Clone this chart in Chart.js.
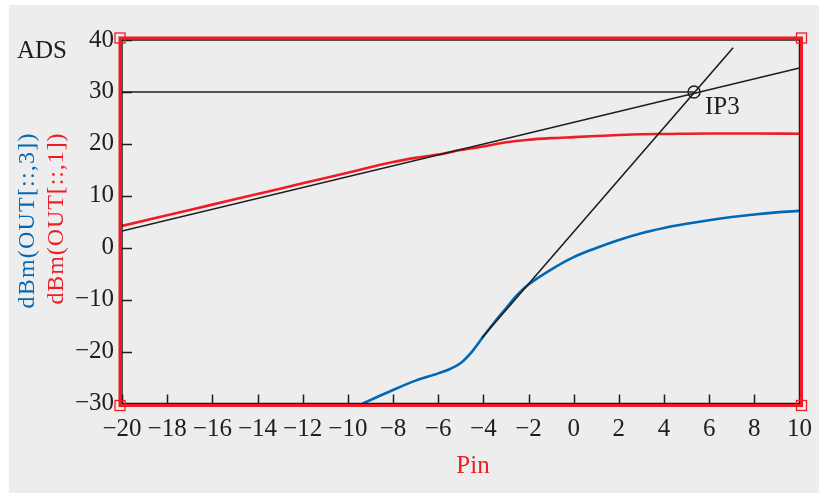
<!DOCTYPE html>
<html><head><meta charset="utf-8">
<script src="https://cdn.jsdelivr.net/npm/chart.js@4"></script>
<style>html,body{margin:0;padding:0;background:#fff;}#wrap{width:827px;height:493px;}</style>
</head><body><div id="wrap"><canvas id="c" width="827" height="493"></canvas></div>
<script>
// ---- data ----
const xTicks = [-20,-18,-16,-14,-12,-10,-8,-6,-4,-2,0,2,4,6,8,10];
const yTicks = [-30,-20,-10,0,10,20,30,40];

// dBm(OUT[::,1]) - fundamental (red)
const out1X = [-20,-18,-16,-14,-12,-10,-8,-7,-6,-5,-4,-3,-2,-1,0,1,2,3,4,6,8,10];
const out1Y = [4.2,6.25,8.3,10.35,12.4,14.45,16.5,17.3,17.95,18.8,19.5,20.3,20.8,21.1,21.3,21.5,21.7,21.85,21.9,22.0,22.0,21.95];

// dBm(OUT[::,3]) - third order (blue)
const out3X = [-9.35,-8,-7,-6,-5.5,-5,-4.5,-4,-3.5,-3,-2.5,-2,-1,0,1,2,3,4,5,6,7,8,9,10];
const out3Y = [-30,-27.4,-25.6,-24.2,-23.4,-22.2,-20.0,-17.1,-14.3,-11.7,-9.1,-7.1,-4.2,-1.8,-0.05,1.5,2.8,3.8,4.6,5.3,5.9,6.4,6.8,7.1];

// extrapolation lines
const fundLineX = [-20, 10];
const fundLineY = [3.2, 34.6];
const im3LineX = [-4.07, 7.06];
const im3LineY = [-17.4, 38.5];
const ip3X = 5.33;
const ip3Y = 30;
const ip3HLineX = [-20, ip3X];
const ip3HLineY = [ip3Y, ip3Y];

const RED = '#ee1c25';
const BLUE = '#0068b5';
const INK = '#1e1e1e';
const SERIF = '"Liberation Serif", "Times New Roman", serif';

const pts = (xs, ys) => xs.map((x, i) => ({x, y: ys[i]}));
const fmt = v => (v < 0 ? '\u2212' + Math.abs(v) : String(v));

const bgPlugin = {
  id: 'bg',
  beforeDraw(chart) {
    const ctx = chart.ctx;
    ctx.save();
    ctx.fillStyle = '#ffffff';
    ctx.fillRect(0, 0, chart.width, chart.height);
    ctx.fillStyle = '#ededed';
    ctx.fillRect(9, 5, 810, 488);
    ctx.restore();
  }
};

const framePlugin = {
  id: 'frame',
  afterDatasetsDraw(chart) {
    const ctx = chart.ctx;
    const a = chart.chartArea;
    const xs = chart.scales.x, ys = chart.scales.y;
    ctx.save();
    // inward tick marks
    ctx.strokeStyle = INK;
    ctx.lineWidth = 1.5;
    ctx.beginPath();
    xs.ticks.forEach(t => {
      const px = Math.round(xs.getPixelForValue(t.value)) + 0.5;
      ctx.moveTo(px, a.bottom);
      ctx.lineTo(px, a.bottom - 9);
    });
    ys.ticks.forEach(t => {
      const py = Math.round(ys.getPixelForValue(t.value)) + 0.5;
      ctx.moveTo(a.left, py);
      ctx.lineTo(a.left + 10, py);
    });
    ctx.stroke();
    // inner black frame
    ctx.lineWidth = 1.5;
    ctx.strokeRect(a.left, a.top, a.right - a.left, a.bottom - a.top);
    // outer red frame
    ctx.strokeStyle = RED;
    ctx.lineWidth = 3;
    const o = 2;
    ctx.strokeRect(a.left - o, a.top - o, a.right - a.left + 2 * o, a.bottom - a.top + 2 * o);
    // corner squares
    ctx.lineWidth = 1.3;
    [[a.left - o, a.top - o], [a.right + o, a.top - o], [a.left - o, a.bottom + o], [a.right + o, a.bottom + o]].forEach(([cx, cy]) => {
      ctx.strokeRect(cx - 5, cy - 5, 10, 10);
    });
    ctx.restore();
  },
  afterDraw(chart) {
    const ctx = chart.ctx;
    ctx.save();
    ctx.fillStyle = INK;
    ctx.font = '25px ' + SERIF;
    ctx.textBaseline = 'alphabetic';
    ctx.textAlign = 'left';
    ctx.fillText('ADS', 17, 58);
    ctx.fillText('IP3', 705, 114);
    ctx.fillStyle = RED;
    ctx.textAlign = 'center';
    ctx.fillText('Pin', 473, 473);
    // rotated y titles
    const drawRot = (txt, color, cx, cy, target) => {
      ctx.save();
      ctx.translate(cx, cy);
      ctx.rotate(-Math.PI / 2);
      ctx.font = '24px ' + SERIF;
      ctx.fillStyle = color;
      ctx.textAlign = 'center';
      ctx.textBaseline = 'middle';
      const w = ctx.measureText(txt).width;
      const n = txt.length;
      const ls = Math.max(0, (target - w) / n);
      ctx.letterSpacing = ls + 'px';
      ctx.fillText(txt, ls / 2, 0);
      ctx.restore();
    };
    drawRot('dBm(OUT[::,3])', BLUE, 28, 221, 176);
    drawRot('dBm(OUT[::,1])', RED, 57, 219, 172);
    ctx.restore();
  }
};

new Chart(document.getElementById('c'), {
  type: 'scatter',
  data: {
    datasets: [
      { data: pts(ip3HLineX, ip3HLineY), showLine: true, borderColor: INK, borderWidth: 1.6, pointRadius: 0 },
      { data: pts(fundLineX, fundLineY), showLine: true, borderColor: INK, borderWidth: 1.6, pointRadius: 0 },
      { data: pts(im3LineX, im3LineY), showLine: true, borderColor: INK, borderWidth: 1.6, pointRadius: 0 },
      { data: pts(out1X, out1Y), showLine: true, borderColor: RED, borderWidth: 2.6, pointRadius: 0, cubicInterpolationMode: 'monotone' },
      { data: pts(out3X, out3Y), showLine: true, borderColor: BLUE, borderWidth: 2.6, pointRadius: 0, cubicInterpolationMode: 'monotone' },
      { data: [{x: ip3X, y: ip3Y}], showLine: false, pointRadius: 6, pointBorderColor: INK, pointBorderWidth: 1.5, pointBackgroundColor: 'rgba(0,0,0,0)' }
    ]
  },
  options: {
    responsive: false,
    animation: false,
    devicePixelRatio: 1,
    layout: { padding: { left: 0, top: 40, right: 27.5, bottom: 0 } },
    plugins: { legend: { display: false }, tooltip: { enabled: false } },
    scales: {
      x: {
        type: 'linear', min: -20, max: 10,
        afterBuildTicks: s => { s.ticks = xTicks.map(v => ({value: v})); },
        afterFit: s => { s.height = 493 - 403.5; },
        grid: { display: false, drawTicks: false },
        border: { display: false },
        ticks: { color: INK, font: { family: SERIF, size: 25 }, padding: 11, maxRotation: 0, autoSkip: false, callback: v => fmt(v) }
      },
      y: {
        type: 'linear', min: -30, max: 40,
        afterBuildTicks: s => { s.ticks = yTicks.map(v => ({value: v})); },
        afterFit: s => { s.width = 122; },
        grid: { display: false, drawTicks: false },
        border: { display: false },
        ticks: { color: INK, font: { family: SERIF, size: 25 }, padding: 8, autoSkip: false, callback: v => fmt(v) }
      }
    }
  },
  plugins: [bgPlugin, framePlugin]
});
</script>
</body></html>
